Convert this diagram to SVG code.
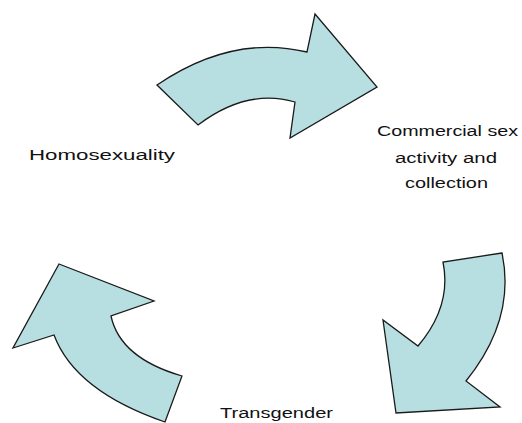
<svg xmlns="http://www.w3.org/2000/svg" width="522" height="423" viewBox="0 0 522 423">
<style>
.arrow{fill:#B7DFE2;stroke:#1a1a1a;stroke-width:1.3;stroke-linejoin:miter}
.lbl{font-family:"Liberation Sans",Arial,sans-serif;font-size:14px;fill:#111}
</style>
<rect width="522" height="423" fill="#fff"/>
<g id="connectors">
<path id="arrow-top" class="arrow" d="M157,85 Q232,34 307,52 L315,14 L377,87 L290,138 L295,102 Q247,88 198,125 Z"/>
<path id="arrow-right" class="arrow" d="M502,253 L443,262 Q452,306 418,346 L383,320 L396,413 L500,407 L466,381 Q516,319 502,253 Z"/>
<path id="arrow-left" class="arrow" d="M59,264 L154,301 L111,316 Q120,358 182,376 L165,422 Q75,391 54,335 L13,348 Z"/>
</g>
<g id="node-homosexuality">
<text class="lbl" x="29" y="160" textLength="146" lengthAdjust="spacingAndGlyphs">Homosexuality</text>
</g>
<g id="node-commercial">
<text class="lbl" x="377" y="136" textLength="141" lengthAdjust="spacingAndGlyphs">Commercial sex</text>
<text class="lbl" x="395" y="163" textLength="102" lengthAdjust="spacingAndGlyphs">activity and</text>
<text class="lbl" x="405" y="188" textLength="83" lengthAdjust="spacingAndGlyphs">collection</text>
</g>
<g id="node-transgender">
<text class="lbl" x="220" y="418" textLength="113" lengthAdjust="spacingAndGlyphs">Transgender</text>
</g>
</svg>
